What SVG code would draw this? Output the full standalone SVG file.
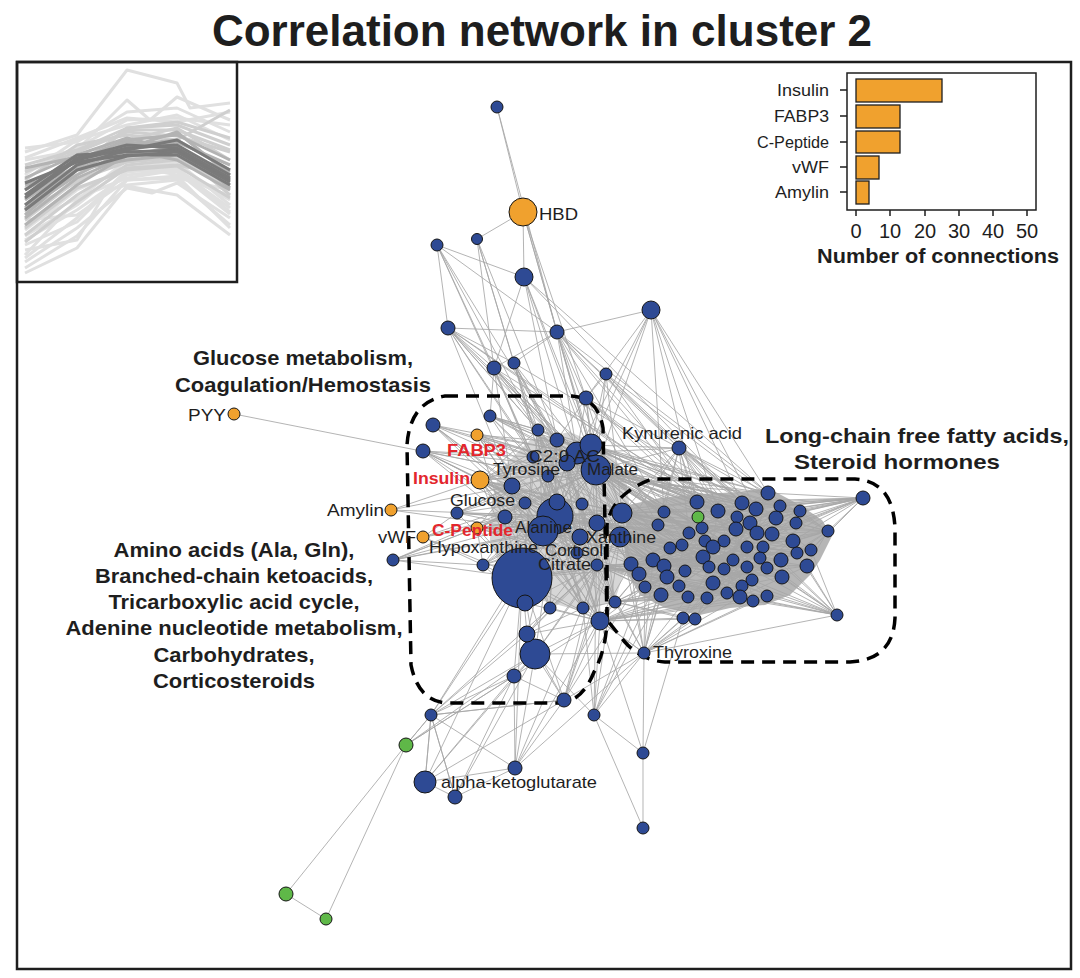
<svg xmlns="http://www.w3.org/2000/svg" width="1080" height="978" viewBox="0 0 1080 978">
<style>
.e{fill:none;stroke:#a6a6a6;stroke-width:0.85}
.dens{fill:#a4a4a4;stroke:none}
.b{fill:#2e4a94;stroke:#151515;stroke-width:1}
.o{fill:#f0a12e;stroke:#151515;stroke-width:1}
.g{fill:#5fb848;stroke:#151515;stroke-width:1}
.t{font-family:"Liberation Sans",Arial,sans-serif;font-size:17px;fill:#1e1e1e}
.r{font-family:"Liberation Sans",Arial,sans-serif;font-size:16.5px;font-weight:bold;fill:#e3262d}
.s{font-family:"Liberation Sans",Arial,sans-serif;font-size:21px;font-weight:bold;fill:#1e1e1e;text-anchor:middle}
.d{fill:none;stroke:#000;stroke-width:3.5;stroke-dasharray:13 8}
.fr{fill:none;stroke:#1e1e1e;stroke-width:2.5}
.il{fill:none;stroke-width:3;stroke-linejoin:round}
.bar{fill:#f0a12e;stroke:#1e1e1e;stroke-width:1.3}
.ax{fill:none;stroke:#1e1e1e;stroke-width:1.5}
</style>
<rect width="1080" height="978" fill="#fff"/>
<text x="542" y="46" font-family="Liberation Sans,Arial,sans-serif" font-size="44" font-weight="bold" fill="#1e1e1e" text-anchor="middle">Correlation network in cluster 2</text>
<rect class="fr" x="17" y="62" width="1054" height="907"/>

<g id="inset">
<g class="il" stroke="#e0e0e0">
<polyline points="25,152 77,135 127,70 177,83 190,108 230,103"/>
<polyline points="25,160 77,150 127,100 150,120 177,97 230,120"/>
<polyline points="25,273 77,248 127,186 177,195 230,235"/>
<polyline points="25,262 77,228 127,188 152,193 177,183 230,218"/>
<polyline points="25,250 77,240 107,190 127,185 177,180 230,225"/>
<polyline points="25,170 77,148 127,120 177,118 230,125"/>
<polyline points="25,175 77,140 127,125 177,115 230,140"/>
<polyline points="25,240 77,210 127,175 177,170 230,200"/>
<polyline points="25,230 77,190 127,168 177,162 230,205"/>
<polyline points="25,220 77,215 127,180 177,178 230,190"/>
<polyline points="25,255 77,200 127,160 177,155 230,170"/>
<polyline points="25,245 77,222 127,172 177,168 230,212"/>
<polyline points="25,268 77,236 127,180 177,176 230,228"/>
<polyline points="25,258 77,218 127,170 177,172 230,214"/>
<polyline points="25,236 77,205 127,165 177,175 230,196"/>
<polyline points="25,148 77,142 127,112 177,108 230,132"/>
<polyline points="25,158 77,138 127,118 177,122 230,112"/>
<polyline points="25,226 77,198 127,178 177,170 230,208"/>
</g>
<g class="il" stroke="#cfcfcf">
<polyline points="25,205 77,165 127,130 177,130 230,150"/>
<polyline points="25,195 77,175 127,140 177,128 230,160"/>
<polyline points="25,180 77,145 127,135 177,140 230,110"/>
<polyline points="25,235 77,195 127,165 177,160 230,182"/>
<polyline points="25,212 77,182 127,158 177,150 230,195"/>
<polyline points="25,165 77,150 127,128 177,125 230,145"/>
<polyline points="25,220 77,180 127,162 177,158 230,188"/>
<polyline points="25,172 77,152 127,132 177,136 230,152"/>
<polyline points="25,228 77,188 127,170 177,166 230,198"/>
<polyline points="25,188 77,168 127,128 177,122 230,138"/>
<polyline points="25,242 77,202 127,168 177,165 230,176"/>
</g>
<g class="il" stroke="#b3b3b3">
<polyline points="25,190 77,160 127,140 177,135 230,160"/>
<polyline points="25,200 77,165 127,145 177,140 230,170"/>
<polyline points="25,210 77,175 127,150 177,142 230,165"/>
<polyline points="25,178 77,155 127,138 177,150 230,180"/>
<polyline points="25,215 77,170 127,160 177,155 230,185"/>
<polyline points="25,185 77,170 127,148 177,132 230,175"/>
<polyline points="25,225 77,185 127,155 177,150 230,172"/>
<polyline points="25,168 77,157 127,150 177,160 230,190"/>
<polyline points="25,208 77,168 127,142 177,146 230,188"/>
<polyline points="25,218 77,178 127,156 177,146 230,178"/>
</g>
<g class="il" stroke="#7a7a7a">
<polyline points="25,190 77,155 127,152 177,150 230,180"/>
<polyline points="25,198 77,160 127,148 177,145 230,175"/>
<polyline points="25,183 77,162 127,155 177,155 230,185"/>
<polyline points="25,205 77,165 127,150 177,140 230,170"/>
<polyline points="25,195 77,158 127,145 177,148 230,178"/>
<polyline points="25,210 77,170 127,156 177,152 230,182"/>
</g>
<rect class="fr" x="17" y="62" width="220" height="220"/>
</g>

<g id="barchart">
<rect class="ax" x="847" y="73" width="189" height="137"/>
<rect class="bar" x="856" y="79" width="86" height="23"/>
<rect class="bar" x="856" y="105" width="44" height="23"/>
<rect class="bar" x="856" y="131" width="44" height="22"/>
<rect class="bar" x="856" y="156" width="23" height="23"/>
<rect class="bar" x="856" y="181" width="13" height="23"/>
<path class="ax" d="M840 90H847M840 116H847M840 142H847M840 167H847M840 192H847M856 210V216M890 210V216M925 210V216M959 210V216M993 210V216M1027 210V216"/>
<g font-family="Liberation Sans,Arial,sans-serif" font-size="16.5" fill="#1e1e1e" text-anchor="end">
<text x="829" y="96" textLength="52" lengthAdjust="spacingAndGlyphs">Insulin</text>
<text x="829" y="122" textLength="55" lengthAdjust="spacingAndGlyphs">FABP3</text>
<text x="829" y="148" textLength="72" lengthAdjust="spacingAndGlyphs">C-Peptide</text>
<text x="829" y="173" textLength="37" lengthAdjust="spacingAndGlyphs">vWF</text>
<text x="829" y="198" textLength="54" lengthAdjust="spacingAndGlyphs">Amylin</text>
</g>
<g font-family="Liberation Sans,Arial,sans-serif" font-size="20" fill="#1e1e1e" text-anchor="middle">
<text x="856" y="238">0</text><text x="890" y="238">10</text><text x="925" y="238">20</text><text x="959" y="238">30</text><text x="993" y="238">40</text><text x="1027" y="238">50</text>
</g>
<text x="938" y="263" font-family="Liberation Sans,Arial,sans-serif" font-size="20" font-weight="bold" fill="#1e1e1e" text-anchor="middle" textLength="242" lengthAdjust="spacingAndGlyphs">Number of connections</text>
</g>

<g id="connectors" class="e">
<path class="dens" opacity="0.8" d="M628 505L660 498L700 494L740 492L768 488L800 505L822 520L832 536L820 560L810 575L790 595L765 605L730 608L700 615L665 608L640 595L628 575L624 545Z"/>
<path class="dens" opacity="0.45" d="M500 470L530 440L570 432L600 445L625 470L630 510L628 560L615 600L585 612L540 600L505 580L490 540L492 500Z"/>
<path d="M497 107L523 212M497 107L557 332M523 212L477 239M523 212L524 277M523 212L557 332M523 212L586 398M523 212L596 470M437 245L524 277M437 245L448 328M437 245L557 332M437 245L494 368M437 245L538 430M437 245L557 440M437 245L533 457M477 239L494 368M477 239L514 363M477 239L548 476M477 239L567 463M524 277L494 368M524 277L577 453M524 277L591 445M524 277L596 470M524 277L557 440M448 328L557 332M448 328L494 368M448 328L514 363M448 328L538 430M448 328L557 440M448 328L577 453M448 328L533 457M448 328L512 486M448 328L548 476M448 328L567 463M557 332L651 310M557 332L494 368M557 332L514 363M557 332L586 398M557 332L577 453M557 332L596 470M557 332L591 445M557 332L622 513M651 310L586 398M651 310L591 445M651 310L577 453M651 310L596 470M651 310L697 502M651 310L718 511M651 310L664 512M494 368L490 416M494 368L538 430M494 368L557 440M494 368L533 457M494 368L512 486M494 368L577 453M494 368L596 470M494 368L555 516M494 368L622 513M514 363L538 430M514 363L557 440M514 363L567 463M514 363L596 470M514 363L548 476M514 363L555 516M514 363L582 504M606 374L591 445M606 374L596 470M606 374L622 513M606 374L586 398M586 398L591 445M586 398L577 453M586 398L596 470M586 398L557 440M586 398L622 513M586 398L658 525M586 398L697 502M679 448L557 332M679 448L606 374M679 448L586 398M557 332L697 502M557 332L742 503M557 332L718 511M557 332L768 493M557 332L664 512M524 277L768 493M524 277L742 503M448 328L718 511M448 328L697 502M494 368L664 512M494 368L737 517M514 363L756 509M651 310L768 493M651 310L742 503M651 310L756 509M606 374L697 502M606 374L742 503M606 374L780 506M586 398L737 517M586 398L718 511M538 430L697 502M538 430L742 503M557 440L768 493M557 440L718 511M490 416L697 502M490 416L664 512M533 457L742 503M548 476L768 493M567 463L780 506M567 463L756 509"/>
<path d="M234 414L548 476M391 510L480 480M391 510L512 486M391 510L555 516M391 510L543 531M423 537L457 513M423 537L505 517M423 537L555 516M423 537L522 578M423 537L483 565M423 537L525 503M393 560L477 528M393 560L505 517M393 560L555 516M393 560L522 578M393 560L543 531M393 560L483 565M393 560L525 503M393 560L597 523M433 425L512 486M433 425L555 516M433 425L533 457M433 425L548 476M433 425L577 453M433 425L596 470M433 425L525 503M433 425L543 531M423 451L480 480M423 451L512 486M423 451L555 516M423 451L548 476M423 451L533 457M423 451L596 470M423 451L525 503M423 451L505 517M423 451L543 531M477 435L512 486M477 435L555 516M477 435L533 457M477 435L548 476M477 435L577 453M477 435L596 470M477 435L525 503M477 435L543 531M477 435L522 578M477 435L591 445M477 435L567 463M477 435L597 523M477 435L580 537M480 480L512 486M480 480L525 503M480 480L555 516M480 480L543 531M480 480L577 453M480 480L596 470M480 480L582 504M480 480L597 523M480 480L622 513M480 480L522 578M480 480L533 457M480 480L548 476M480 480L567 463M480 480L505 517M480 480L580 537M480 480L620 537M480 480L597 565M480 480L591 445M480 480L557 440M480 480L538 430M480 480L577 553M480 480L557 502M480 480L600 621M480 480L583 608M477 528L555 516M477 528L543 531M477 528L522 578M477 528L597 523M477 528L580 537M477 528L505 517M477 528L525 503M477 528L512 486M477 528L596 470M477 528L620 537M477 528L577 553M477 528L597 565M477 528L483 565M457 513L512 486M457 513L555 516M457 513L525 503M457 513L596 470M457 513L543 531M457 513L505 517M457 513L597 523M457 513L522 578M457 513L577 453M457 513L548 476M490 416L538 430M490 416L557 440M490 416L577 453M490 416L596 470M490 416L555 516M490 416L533 457M490 416L548 476M490 416L591 445M538 430L555 516M538 430L543 531M538 430L597 523M538 430L580 537M538 430L597 565M538 430L522 578M538 430L583 608M538 430L600 621M538 430L622 513M538 430L620 537M557 440L555 516M557 440L543 531M557 440L597 523M557 440L580 537M557 440L597 565M557 440L522 578M557 440L550 608M557 440L615 602M557 440L622 513M557 440L620 537M557 440L525 603M533 457L580 537M533 457L597 565M533 457L522 578M533 457L583 608M533 457L622 513M533 457L620 537M533 457L577 553M533 457L597 523M512 486L580 537M512 486L597 565M512 486L522 578M512 486L583 608M512 486L550 608M512 486L622 513M512 486L620 537M512 486L577 553M512 486L597 523M512 486L596 470M548 476L580 537M548 476L597 565M548 476L600 621M548 476L525 603M548 476L622 513M548 476L620 537M548 476L577 553M548 476L483 565M567 463L543 531M567 463L597 565M567 463L522 578M567 463L615 602M567 463L622 513M567 463L620 537M567 463L577 553M567 463L505 517M525 503L597 565M525 503L583 608M525 503L600 621M525 503L622 513M525 503L620 537M525 503L577 553M525 503L596 470M505 517L597 565M505 517L550 608M505 517L615 602M505 517L622 513M505 517L620 537M505 517L583 608M505 517L596 470M522 578L555 516M522 578L596 470M522 578L622 513M522 578L620 537M522 578L597 523M522 578L580 537M522 578L597 565M522 578L600 621M522 578L535 654M522 578L527 634M522 578L564 700M522 578L514 676M522 578L431 715M522 578L425 782M522 578L515 768M522 578L653 560M522 578L631 564M522 578L664 566M483 565L555 516M483 565L543 531M483 565L597 523M483 565L580 537M483 565L597 565M483 565L525 603M483 565L600 621M483 565L596 470M555 516L596 470M555 516L622 513M555 516L620 537M555 516L597 565M555 516L600 621M555 516L577 453M555 516L591 445M555 516L653 560M555 516L658 525M555 516L664 512M555 516L682 545M555 516L697 502M555 516L705 541M555 516L631 564M555 516L615 602M555 516L583 608M555 516L550 608M543 531L596 470M543 531L622 513M543 531L620 537M543 531L597 565M543 531L600 621M543 531L583 608M543 531L653 560M543 531L664 566M543 531L615 602M543 531L631 564M582 504L631 564M582 504L653 560M582 504L600 621M597 523L615 602M580 537L615 602M580 537L653 560M577 553L639 574M577 553L600 621M597 565L583 608M597 565L550 608M597 565L525 603M583 608L615 602M550 608L600 621M525 603L600 621M591 445L597 565M591 445L620 537M591 445L622 513M591 445L555 516M577 453L597 523M577 453L580 537M577 453L620 537M577 453L622 513M596 470L620 537M596 470L622 513M596 470L597 565M596 470L580 537M596 470L600 621M596 470L615 602"/>
<path d="M596 470L697 502M596 470L718 511M596 470L742 503M596 470L768 493M596 470L664 512M596 470L737 517M596 470L756 509M596 470L780 506M596 470L702 528M596 470L736 529M596 470L750 523M596 470L689 533M596 470L724 541M596 470L757 533M596 470L658 525M596 470L705 541M596 470L682 545M596 470L713 547M596 470L747 547M596 470L670 548M596 470L800 511M596 470L776 518M591 445L697 502M591 445L742 503M591 445L768 493M591 445L718 511M591 445L756 509M591 445L780 506M591 445L664 512M591 445L737 517M591 445L689 533M591 445L702 528M591 445L750 523M591 445L800 511M577 453L664 512M577 453L697 502M577 453L718 511M577 453L702 528M577 453L689 533M577 453L682 545M577 453L736 529M577 453L737 517M577 453L658 525M577 453L670 548M577 453L705 541M577 453L724 541M622 513L658 525M622 513L664 512M622 513L697 502M622 513L689 533M622 513L702 528M622 513L718 511M622 513L736 529M622 513L682 545M622 513L670 548M622 513L713 547M622 513L703 557M622 513L653 560M622 513L664 566M622 513L685 571M622 513L709 567M622 513L724 569M622 513L747 547M622 513L757 533M622 513L772 534M622 513L793 541M622 513L811 550M622 513L828 531M622 513L863 498M620 537L653 560M620 537L664 566M620 537L670 548M620 537L682 545M620 537L685 571M620 537L703 557M620 537L705 541M620 537L713 547M620 537L724 569M620 537L733 560M620 537L747 567M620 537L667 577M620 537L679 586M620 537L645 587M620 537L661 595M620 537L688 597M620 537L707 598M620 537L713 583M620 537L742 586M620 537L760 558M620 537L781 560M620 537L807 566M620 537L837 615M620 537L863 498M597 523L631 564M597 523L639 574M597 523L653 560M597 523L658 525M597 523L664 566M597 523L667 577M597 523L682 545M597 523L689 533M597 523L703 557M597 523L724 569M597 523L747 567M597 523L782 577M597 523L797 553M597 523L811 550M597 565L631 564M597 565L639 574M597 565L645 587M597 565L661 595M597 565L667 577M597 565L679 586M597 565L688 597M597 565L707 598M597 565L713 583M597 565L727 593M597 565L740 597M597 565L753 601M597 565L767 596M597 565L782 577M597 565L685 571M600 621L639 574M600 621L645 587M600 621L661 595M600 621L683 618M600 621L695 619M600 621L688 597M600 621L707 598M600 621L727 593M600 621L740 597M600 621L753 601M600 621L767 596M600 621L713 583M615 602L639 574M615 602L645 587M615 602L661 595M615 602L667 577M615 602L679 586M615 602L688 597M615 602L683 618M615 602L695 619M615 602L707 598M615 602L727 593M615 602L742 586M615 602L752 580M653 560L703 557M653 560L733 560M653 560L760 558M653 560L781 560M653 560L807 566M653 560L724 569M653 560L747 567M653 560L767 568M653 560L782 577M653 560L752 580M653 560L828 531M653 560L800 511M631 564L664 566M631 564L685 571M631 564L709 567M631 564L747 567M631 564L767 568M631 564L797 553M631 564L811 550M631 564L768 493M631 564L742 503M679 448L596 470M679 448L591 445M679 448L577 453M679 448L622 513M679 448L664 512M679 448L697 502M679 448L718 511M679 448L742 503M679 448L768 493M679 448L702 528M679 448L737 517M679 448L756 509M679 448L780 506M679 448L689 533M679 448L736 529M679 448L750 523M679 448L776 518M679 448L658 525M679 448L620 537"/>
<path d="M863 498L768 493M863 498L780 506M863 498L800 511M863 498L796 523M863 498L828 531M863 498L793 541M863 498L811 550M863 498L742 503M863 498L756 509M863 498L776 518M863 498L757 533M863 498L772 534M863 498L718 511M863 498L697 502M863 498L737 517M863 498L702 528M863 498L750 523M863 498L664 512M863 498L763 547M863 498L747 547M837 615L811 550M837 615L807 566M837 615L797 553M837 615L782 577M837 615L767 596M837 615L767 568M837 615L781 560M837 615L753 601M837 615L740 597M837 615L752 580M837 615L742 586M837 615L727 593M837 615L763 547M837 615L747 567M837 615L760 558M828 531L793 541M828 531L811 550M828 531L800 511M828 531L796 523M828 531L807 566M828 531L797 553M828 531L781 560M828 531L772 534M828 531L776 518M828 531L780 506M828 531L768 493M644 653L600 621M644 653L615 602M644 653L597 565M644 653L620 537M644 653L622 513M644 653L653 560M644 653L664 566M644 653L683 618M644 653L695 619M644 653L667 577M644 653L661 595M644 653L707 598M644 653L727 593M644 653L740 597M644 653L767 596M644 653L837 615M644 653L753 601M644 653L564 700M644 653L594 715M644 653L515 768M644 653L535 654M644 653L583 608M644 653L645 587M644 653L688 597"/>
<path d="M664 512L800 511M658 525L828 531M670 548L811 550M664 566L807 566M661 595L767 596M697 502L767 568M718 511L782 577M742 503L727 593M768 493L713 583M780 506L688 597M800 511L661 595M796 523L645 587M828 531L639 574M811 550L653 560M793 541L664 512M757 533L707 598M736 529L753 601M702 528L782 577M689 533L797 553M682 545L793 541M705 541L740 597M713 547L767 596M724 541L679 586M747 547L667 577M763 547L688 597M703 557L797 553M733 560L828 531M760 558L697 502M781 560L718 511M709 567L776 518M685 571L780 506M724 569L768 493M742 586L664 512M752 580L658 525M727 593L689 533M707 598L800 511M683 618L772 534M695 619L750 523M740 597L697 502M753 601L682 545M767 596L670 548M782 577L664 566M807 566L645 587M797 553L631 564M742 503L661 595M756 509L679 586M737 517L713 583M718 511L742 586M697 502L727 593M768 493L796 523M768 493L757 533M742 503L780 506M756 509L811 550M737 517L800 511M750 523L793 541M776 518L747 547M772 534L807 566M763 547L797 553M747 567L811 550M733 560L782 577M713 583L767 568M688 597L752 580M667 577L740 597M679 586L753 601M645 587L707 598M639 574L727 593M661 595L742 586M653 560L709 567M664 566L713 547M670 548L724 541M689 533L736 529M702 528L757 533M718 511L750 523M697 502L737 517M664 512L705 541M658 525L703 557M682 545L733 560M705 541L760 558M713 547L781 560M724 569L797 553M709 567L752 580M685 571L742 586M703 557L767 568M697 502L668 600M718 511L700 610M742 503L683 618M768 493L695 619M780 506L645 587M800 511L639 574M796 523L631 564M811 550L661 595M797 553L688 597M793 541L707 598M772 534L667 577M776 518L679 586M750 523L664 566M756 509L653 560M737 517L639 574M757 533L645 587M736 529L661 595M747 547L683 618M763 547L695 619M781 560L727 593M807 566L740 597M782 577L688 597M767 568L679 586M760 558L664 566M733 560L653 560M724 541L631 564M705 541L639 574M689 533L645 587M702 528L667 577M682 545L742 586M670 548L752 580M658 525L727 593M664 512L713 583"/>
<path d="M535 654L514 676M535 654L564 700M535 654L431 715M535 654L406 745M535 654L425 782M535 654L455 797M535 654L515 768M535 654L594 715M535 654L600 621M535 654L620 537M535 654L597 565M535 654L555 516M535 654L527 634M527 634L600 621M527 634L583 608M527 634L431 715M527 634L564 700M527 634L597 565M527 634L555 516M527 634L622 513M527 634L620 537M514 676L431 715M514 676L425 782M514 676L455 797M514 676L515 768M514 676L564 700M514 676L406 745M514 676L600 621M564 700L431 715M564 700L515 768M564 700L425 782M564 700L600 621M564 700L622 513M564 700L597 565M564 700L620 537M564 700L653 560M594 715L643 753M594 715L600 621M594 715L620 537M594 715L597 523M594 715L653 560M594 715L664 566M594 715L583 608M594 715L643 828M594 715L661 595M431 715L406 745M431 715L425 782M431 715L455 797M431 715L515 768M431 715L564 700M431 715L555 516M431 715L597 565M406 745L286 894M406 745L326 919M406 745L431 715M406 745L514 676M286 894L326 919M425 782L455 797M425 782L515 768M425 782L431 715M455 797L515 768M455 797L431 715M515 768L631 564M515 768L622 513M643 753L643 828M643 753L644 653M643 753L600 621M643 753L683 618"/>
</g>

<g id="regions">
<path class="d" d="M445 396L572 396Q598 398 603 428L607 620Q606 650 594 672Q583 700 562 703L445 703Q418 700 411 665L407 445Q410 402 445 396Z"/>
<path class="d" d="M607 620L607 525Q612 494 652 479L855 479Q893 481 895 528L895 618Q893 660 850 662L665 662Q640 660 624 641Z"/>
</g>

<g id="nodes">
<g id="n_big"><circle class="b" cx="522" cy="578" r="30"/></g>
<g id="n_alanine"><circle class="b" cx="555" cy="516" r="18"/></g>
<g id="n27"><circle class="b" cx="543" cy="531" r="15"/></g>
<g id="n26"><circle class="b" cx="557" cy="502" r="8"/></g>
<g id="n43"><circle class="b" cx="535" cy="654" r="15"/></g>
<g id="n18"><circle class="b" cx="577" cy="453" r="11"/></g>
<g id="n17"><circle class="b" cx="591" cy="445" r="11"/></g>
<g id="n_malate"><circle class="b" cx="596" cy="470" r="15"/></g>
<g id="n1"><circle class="b" cx="497" cy="107" r="6"/></g>
<g id="n_hbd"><circle class="o" cx="523" cy="212" r="14"/></g>
<g id="n2"><circle class="b" cx="437" cy="245" r="6"/></g>
<g id="n3"><circle class="b" cx="477" cy="239" r="5.5"/></g>
<g id="n4"><circle class="b" cx="524" cy="277" r="9"/></g>
<g id="n5"><circle class="b" cx="651" cy="310" r="9"/></g>
<g id="n6"><circle class="b" cx="448" cy="328" r="7"/></g>
<g id="n7"><circle class="b" cx="557" cy="332" r="7"/></g>
<g id="n8"><circle class="b" cx="494" cy="368" r="7"/></g>
<g id="n9"><circle class="b" cx="514" cy="363" r="6"/></g>
<g id="n10"><circle class="b" cx="606" cy="374" r="6"/></g>
<g id="n11"><circle class="b" cx="586" cy="398" r="7"/></g>
<g id="n12"><circle class="b" cx="490" cy="416" r="6"/></g>
<g id="n13"><circle class="b" cx="433" cy="425" r="7"/></g>
<g id="n14"><circle class="b" cx="423" cy="451" r="7"/></g>
<g id="n15"><circle class="b" cx="538" cy="430" r="6"/></g>
<g id="n16"><circle class="b" cx="557" cy="440" r="7"/></g>
<g id="n19"><circle class="b" cx="533" cy="457" r="6"/></g>
<g id="n20"><circle class="b" cx="567" cy="463" r="8"/></g>
<g id="n21"><circle class="b" cx="548" cy="476" r="6"/></g>
<g id="n22"><circle class="b" cx="512" cy="486" r="8"/></g>
<g id="n23"><circle class="b" cx="525" cy="503" r="6"/></g>
<g id="n24"><circle class="b" cx="457" cy="513" r="6"/></g>
<g id="n25"><circle class="b" cx="505" cy="517" r="7"/></g>
<g id="n28"><circle class="b" cx="582" cy="504" r="6"/></g>
<g id="n29"><circle class="b" cx="597" cy="523" r="8"/></g>
<g id="n30"><circle class="b" cx="580" cy="537" r="8"/></g>
<g id="n31"><circle class="b" cx="622" cy="513" r="10"/></g>
<g id="n32"><circle class="b" cx="620" cy="537" r="10"/></g>
<g id="n33"><circle class="b" cx="393" cy="560" r="6"/></g>
<g id="n34"><circle class="b" cx="483" cy="565" r="6"/></g>
<g id="n35"><circle class="b" cx="525" cy="603" r="8"/></g>
<g id="n36"><circle class="b" cx="550" cy="608" r="6"/></g>
<g id="n37"><circle class="b" cx="583" cy="608" r="6"/></g>
<g id="n38"><circle class="b" cx="597" cy="565" r="6"/></g>
<g id="n39"><circle class="b" cx="600" cy="621" r="9"/></g>
<g id="n40"><circle class="b" cx="615" cy="602" r="6"/></g>
<g id="n41"><circle class="b" cx="577" cy="553" r="6"/></g>
<g id="n42"><circle class="b" cx="527" cy="634" r="8"/></g>
<g id="n44"><circle class="b" cx="514" cy="676" r="7"/></g>
<g id="n45"><circle class="b" cx="564" cy="700" r="7"/></g>
<g id="n46"><circle class="b" cx="594" cy="715" r="6"/></g>
<g id="n_thyroxine"><circle class="b" cx="644" cy="653" r="6"/></g>
<g id="n47"><circle class="b" cx="431" cy="715" r="6"/></g>
<g id="n_g1"><circle class="g" cx="406" cy="745" r="7"/></g>
<g id="n_akg"><circle class="b" cx="425" cy="782" r="11"/></g>
<g id="n48"><circle class="b" cx="455" cy="797" r="7"/></g>
<g id="n49"><circle class="b" cx="515" cy="768" r="7"/></g>
<g id="n50"><circle class="b" cx="643" cy="753" r="6"/></g>
<g id="n51"><circle class="b" cx="643" cy="828" r="6"/></g>
<g id="n_g2"><circle class="g" cx="286" cy="894" r="7"/></g>
<g id="n_g3"><circle class="g" cx="326" cy="919" r="6"/></g>
<g id="n_kyn"><circle class="b" cx="679" cy="448" r="7"/></g>
<g id="n_fabp3"><circle class="o" cx="477" cy="435" r="6"/></g>
<g id="n_insulin"><circle class="o" cx="480" cy="480" r="9"/></g>
<g id="n_cpep"><circle class="o" cx="477" cy="528" r="6"/></g>
<g id="n_vwf"><circle class="o" cx="423" cy="537" r="6"/></g>
<g id="n_amylin"><circle class="o" cx="391" cy="510" r="6"/></g>
<g id="n_pyy"><circle class="o" cx="234" cy="414" r="6"/></g>
<g id="r1"><circle class="b" cx="768" cy="493" r="7"/></g>
<g id="r2"><circle class="b" cx="863" cy="498" r="7"/></g>
<g id="r3"><circle class="b" cx="697" cy="502" r="7"/></g>
<g id="r4"><circle class="b" cx="742" cy="503" r="7"/></g>
<g id="r5"><circle class="b" cx="780" cy="506" r="6"/></g>
<g id="r6"><circle class="b" cx="718" cy="511" r="7"/></g>
<g id="r7"><circle class="b" cx="756" cy="509" r="7"/></g>
<g id="r8"><circle class="b" cx="800" cy="511" r="6"/></g>
<g id="r9"><circle class="b" cx="664" cy="512" r="6"/></g>
<g id="r10"><circle class="b" cx="737" cy="517" r="6"/></g>
<g id="r11"><circle class="b" cx="776" cy="518" r="7"/></g>
<g id="r12"><circle class="b" cx="750" cy="523" r="7"/></g>
<g id="r13"><circle class="b" cx="796" cy="523" r="6"/></g>
<g id="r14"><circle class="b" cx="658" cy="525" r="6"/></g>
<g id="r15"><circle class="b" cx="702" cy="528" r="6"/></g>
<g id="r16"><circle class="b" cx="736" cy="529" r="7"/></g>
<g id="r17"><circle class="b" cx="828" cy="531" r="6"/></g>
<g id="r18"><circle class="b" cx="689" cy="533" r="6"/></g>
<g id="r19"><circle class="b" cx="757" cy="533" r="7"/></g>
<g id="r20"><circle class="b" cx="772" cy="534" r="7"/></g>
<g id="r21"><circle class="b" cx="724" cy="541" r="6"/></g>
<g id="r22"><circle class="b" cx="705" cy="541" r="6"/></g>
<g id="r23"><circle class="b" cx="682" cy="545" r="6"/></g>
<g id="r24"><circle class="b" cx="793" cy="541" r="7"/></g>
<g id="r25"><circle class="b" cx="670" cy="548" r="6"/></g>
<g id="r26"><circle class="b" cx="713" cy="547" r="7"/></g>
<g id="r27"><circle class="b" cx="747" cy="547" r="6"/></g>
<g id="r28"><circle class="b" cx="763" cy="547" r="6"/></g>
<g id="r29"><circle class="b" cx="811" cy="550" r="6"/></g>
<g id="r30"><circle class="b" cx="797" cy="553" r="6"/></g>
<g id="r31"><circle class="b" cx="703" cy="557" r="7"/></g>
<g id="r32"><circle class="b" cx="760" cy="558" r="6"/></g>
<g id="r33"><circle class="b" cx="733" cy="560" r="6"/></g>
<g id="r34"><circle class="b" cx="781" cy="560" r="7"/></g>
<g id="r35"><circle class="b" cx="653" cy="560" r="7"/></g>
<g id="r36"><circle class="b" cx="631" cy="564" r="7"/></g>
<g id="r37"><circle class="b" cx="664" cy="566" r="7"/></g>
<g id="r38"><circle class="b" cx="807" cy="566" r="7"/></g>
<g id="r39"><circle class="b" cx="747" cy="567" r="6"/></g>
<g id="r40"><circle class="b" cx="685" cy="571" r="6"/></g>
<g id="r41"><circle class="b" cx="724" cy="569" r="6"/></g>
<g id="r42"><circle class="b" cx="709" cy="567" r="6"/></g>
<g id="r43"><circle class="b" cx="767" cy="568" r="6"/></g>
<g id="r44"><circle class="b" cx="639" cy="574" r="7"/></g>
<g id="r45"><circle class="b" cx="667" cy="577" r="7"/></g>
<g id="r46"><circle class="b" cx="782" cy="577" r="7"/></g>
<g id="r47"><circle class="b" cx="752" cy="580" r="6"/></g>
<g id="r48"><circle class="b" cx="713" cy="583" r="7"/></g>
<g id="r49"><circle class="b" cx="679" cy="586" r="6"/></g>
<g id="r50"><circle class="b" cx="645" cy="587" r="6"/></g>
<g id="r51"><circle class="b" cx="742" cy="586" r="6"/></g>
<g id="r52"><circle class="b" cx="727" cy="593" r="6"/></g>
<g id="r53"><circle class="b" cx="661" cy="595" r="7"/></g>
<g id="r54"><circle class="b" cx="688" cy="597" r="6"/></g>
<g id="r55"><circle class="b" cx="707" cy="598" r="6"/></g>
<g id="r56"><circle class="b" cx="740" cy="597" r="7"/></g>
<g id="r57"><circle class="b" cx="767" cy="596" r="6"/></g>
<g id="r58"><circle class="b" cx="753" cy="601" r="6"/></g>
<g id="r59"><circle class="b" cx="837" cy="615" r="6"/></g>
<g id="r60"><circle class="b" cx="683" cy="618" r="6"/></g>
<g id="r61"><circle class="b" cx="695" cy="619" r="6"/></g>
<g id="n_g4"><circle class="g" cx="698" cy="517" r="6"/></g>
</g>

<g id="labels">
<text class="t" x="539" y="220" textLength="39" lengthAdjust="spacingAndGlyphs">HBD</text>
<text class="t" x="188" y="421" textLength="38" lengthAdjust="spacingAndGlyphs">PYY</text>
<text class="t" x="327" y="516" textLength="57" lengthAdjust="spacingAndGlyphs">Amylin</text>
<text class="t" x="378" y="543" textLength="38" lengthAdjust="spacingAndGlyphs">vWF</text>
<text class="r" x="447" y="456" textLength="59" lengthAdjust="spacingAndGlyphs">FABP3</text>
<text class="r" x="413" y="484" textLength="57" lengthAdjust="spacingAndGlyphs">Insulin</text>
<text class="r" x="432" y="536" textLength="81" lengthAdjust="spacingAndGlyphs">C-Peptide</text>
<text class="t" x="529" y="462" textLength="71" lengthAdjust="spacingAndGlyphs">C2:0 AC</text>
<text class="t" x="493" y="475" textLength="67" lengthAdjust="spacingAndGlyphs">Tyrosine</text>
<text class="t" x="587" y="475" textLength="51" lengthAdjust="spacingAndGlyphs">Malate</text>
<text class="t" x="450" y="506" textLength="65" lengthAdjust="spacingAndGlyphs">Glucose</text>
<text class="t" x="515" y="533" textLength="57" lengthAdjust="spacingAndGlyphs">Alanine</text>
<text class="t" x="586" y="543" textLength="70" lengthAdjust="spacingAndGlyphs">Xanthine</text>
<text class="t" x="429" y="553" textLength="109" lengthAdjust="spacingAndGlyphs">Hypoxanthine</text>
<text class="t" x="545" y="556" textLength="58" lengthAdjust="spacingAndGlyphs">Cortisol</text>
<text class="t" x="538" y="570" textLength="53" lengthAdjust="spacingAndGlyphs">Citrate</text>
<text class="t" x="622" y="439" textLength="120" lengthAdjust="spacingAndGlyphs">Kynurenic acid</text>
<text class="t" x="653" y="658" textLength="79" lengthAdjust="spacingAndGlyphs">Thyroxine</text>
<text class="t" x="441" y="788" textLength="156" lengthAdjust="spacingAndGlyphs">alpha-ketoglutarate</text>
<text class="s" x="303" y="365" textLength="220" lengthAdjust="spacingAndGlyphs">Glucose metabolism,</text>
<text class="s" x="303" y="392" textLength="256" lengthAdjust="spacingAndGlyphs">Coagulation/Hemostasis</text>
<text class="s" x="234" y="557" textLength="241" lengthAdjust="spacingAndGlyphs">Amino acids (Ala, Gln),</text>
<text class="s" x="234" y="583" textLength="278" lengthAdjust="spacingAndGlyphs">Branched-chain ketoacids,</text>
<text class="s" x="234" y="609" textLength="251" lengthAdjust="spacingAndGlyphs">Tricarboxylic acid cycle,</text>
<text class="s" x="234" y="635" textLength="337" lengthAdjust="spacingAndGlyphs">Adenine nucleotide metabolism,</text>
<text class="s" x="234" y="662" textLength="161" lengthAdjust="spacingAndGlyphs">Carbohydrates,</text>
<text class="s" x="234" y="688" textLength="162" lengthAdjust="spacingAndGlyphs">Corticosteroids</text>
<text class="s" x="917" y="443" textLength="304" lengthAdjust="spacingAndGlyphs">Long-chain free fatty acids,</text>
<text class="s" x="897" y="469" textLength="206" lengthAdjust="spacingAndGlyphs">Steroid hormones</text>
</g>
</svg>
